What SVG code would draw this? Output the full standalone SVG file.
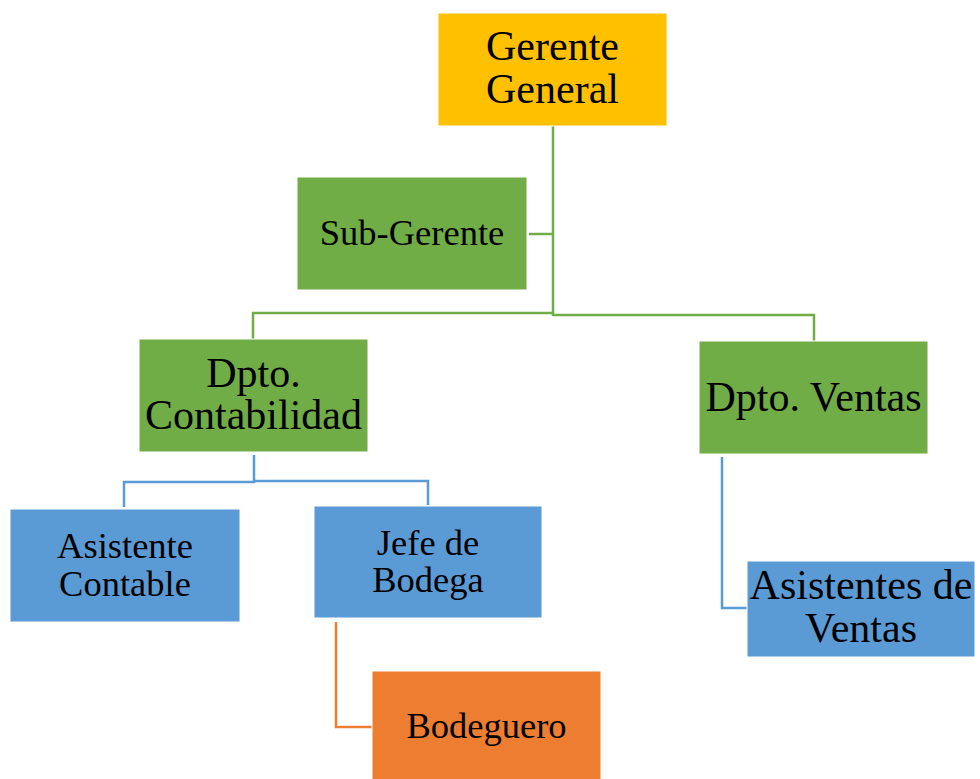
<svg xmlns="http://www.w3.org/2000/svg" width="980" height="779" viewBox="0 0 980 779">
<style>
text{font-family:"Liberation Serif","Times New Roman",serif;fill:#000;text-anchor:middle}
.big{font-size:42px}
.sm{font-size:36.5px}
.conn path{fill:none;stroke-width:2.5}
.g{stroke:#70AD47}.b{stroke:#5B9BD5}.o{stroke:#ED7D31}
rect{stroke:#fff;stroke-width:1}
</style>
<rect width="980" height="779" fill="#fff" stroke="none"/>
<g class="conn" id="connectors">
<path class="g" d="M553,126V316"/>
<path class="g" d="M529,234H553"/>
<path class="g" d="M253,339V313H553"/>
<path class="g" d="M553,315H814V341"/>
<path class="b" d="M124,507V482H254V455"/>
<path class="b" d="M254,481H428V505"/>
<path class="o" d="M336,622V727H372"/>
<path class="b" d="M722,457V608H747"/>
</g>
<g id="gerente-general">
<rect x="438" y="13" width="229" height="113" fill="#FFC000"/>
<text class="big" x="552.5" y="60">Gerente</text>
<text class="big" x="552.5" y="103">General</text>
</g>
<g id="sub-gerente">
<rect x="297" y="177" width="230" height="113" fill="#70AD47" stroke="#E3E3E3" stroke-width="2.5"/>
<text class="sm" x="412" y="245">Sub-Gerente</text>
</g>
<g id="dpto-contabilidad">
<rect x="139" y="339" width="229" height="113" fill="#70AD47"/>
<text class="big" x="253.5" y="387">Dpto.</text>
<text class="big" x="253.5" y="429">Contabilidad</text>
</g>
<g id="dpto-ventas">
<rect x="699" y="341" width="229" height="113" fill="#70AD47"/>
<text class="big" x="813.5" y="411">Dpto. Ventas</text>
</g>
<g id="asistente-contable">
<rect x="10" y="509" width="230" height="113" fill="#5B9BD5"/>
<text class="sm" x="125" y="558">Asistente</text>
<text class="sm" x="125" y="596">Contable</text>
</g>
<g id="jefe-bodega">
<rect x="314" y="506" width="228" height="112" fill="#5B9BD5"/>
<text class="sm" x="428" y="555">Jefe de</text>
<text class="sm" x="428" y="592">Bodega</text>
</g>
<g id="bodeguero">
<rect x="372" y="671" width="229" height="110" fill="#ED7D31"/>
<text class="sm" x="486.5" y="738">Bodeguero</text>
</g>
<g id="asistentes-ventas">
<rect x="747" y="561" width="228" height="96" fill="#5B9BD5"/>
<text class="big" x="861" y="599">Asistentes de</text>
<text class="big" x="861" y="642">Ventas</text>
</g>
</svg>
